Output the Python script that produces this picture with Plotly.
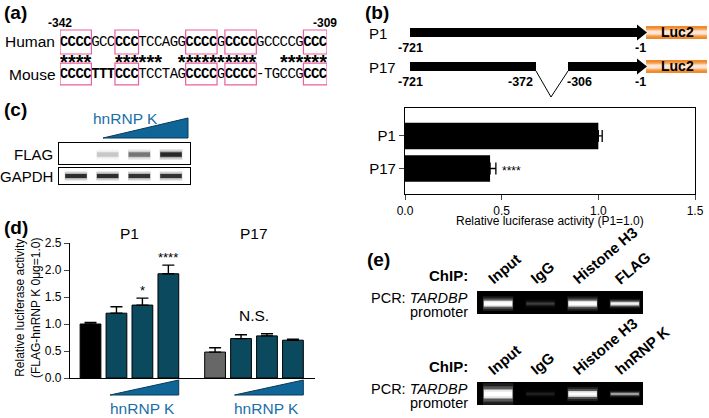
import plotly.graph_objects as go

W, H = 709, 418
SANS = "Liberation Sans, Arial, sans-serif"
MONO = "Liberation Mono, DejaVu Sans Mono, monospace"
TEAL = "#0b4a5e"
GREY = "#676767"
BLUE_TXT = "#1b6fa8"
BLUE_TRI = "#0f6596"
PINK = "#ec5f9e"

# (a) promoter alignment
human_seq = "CCCCGCCCCCTCCAGGCCCCGCCCCGCCCCGCCC"
mouse_seq = "CCCCTTTCCCTCCTAGCCCCGCCCC-TGCCGCCC"
human_bold = [(0, 4), (7, 10), (16, 20), (21, 25), (31, 34)]
mouse_bold = [(0, 10), (16, 20), (21, 25), (31, 34)]
c_rich_boxes = [(0, 4), (7, 10), (16, 20), (21, 25), (31, 34)]
seq_ends = ["-342", "-309"]

# (b) reporter constructs
constructs = ["P1", "P17"]
construct_activity = [1.0, 0.44]
construct_err = [0.02, 0.03]
construct_sig = ["", "****"]
p1_labels = ["-721", "-1"]
p17_labels = ["-721", "-372", "-306", "-1"]

# (c) western blot
blot_rows = ["FLAG", "GAPDH"]
flag_signal = [0.0, 0.2, 0.55, 1.0]
gapdh_signal = [0.95, 0.95, 0.92, 0.92]

# (d) luciferase with hnRNP K titration
d_groups = ["P1", "P17"]
d_activity = [[1.0, 1.2, 1.35, 1.93], [0.48, 0.73, 0.78, 0.70]]
d_err = [[0.03, 0.12, 0.13, 0.16], [0.08, 0.07, 0.04, 0.02]]
d_sig = [["", "", "*", "****"], ["", "", "", ""]]
d_group_note = ["", "N.S."]

# (e) ChIP gels
chip_lanes = [["Input", "IgG", "Histone H3", "FLAG"],
              ["Input", "IgG", "Histone H3", "hnRNP K"]]
chip_signal = [[1.0, 0.12, 0.95, 0.78], [1.0, 0.06, 0.92, 0.42]]


def px(x):
    return x / W


def py(y):
    return 1 - y / H


def dx(a, b):
    return [a / W, b / W]


def dy(top, bottom):
    return [1 - bottom / H, 1 - top / H]


def path(points):
    return "M " + " L ".join(f"{px(x)},{py(y)}" for x, y in points) + " Z"


fig = go.Figure()
annotations = []
shapes = []


def text(x, y, s, size=15, bold=False, color="black", xanchor="center", yanchor="middle", angle=0):
    annotations.append(dict(x=px(x), y=py(y), xref="paper", yref="paper",
                            text=f"<b>{s}</b>" if bold else s, showarrow=False,
                            font=dict(family=SANS, size=size, color=color),
                            xanchor=xanchor, yanchor=yanchor, textangle=angle))


def rect(x0, y0, x1, y1, fill, line_color=None, width=0, layer="above"):
    shapes.append(dict(type="rect", xref="paper", yref="paper", x0=px(x0), x1=px(x1), y0=py(y1), y1=py(y0),
                       fillcolor=fill, line=dict(color=line_color or fill, width=width), layer=layer))


def add_bands(signal, xa, ya, rgb, core, yc, half=0.34, bright=False):
    for i, v in enumerate(signal):
        if v <= 0:
            continue
        layers = [(2.4, 0.12, 1.06), (1.7, 0.25, 1.03), (1.0, 0.85, 1.0)]
        if bright:
            layers.append((0.5, 1.0, 0.97))
        for wm, am, hm in layers:
            fig.add_trace(go.Scatter(x=[i - half * hm, i + half * hm], y=[yc, yc], mode="lines",
                                     line=dict(color=f"rgba({rgb},{min(1, v * am):.3f})", width=core[i] * wm),
                                     xaxis=xa, yaxis=ya, hoverinfo="skip", showlegend=False))


# ---------- (a)
text(2, 13, "(a)", 19, True, xanchor="left")
text(3, 42, "Human", 15.5, xanchor="left")
text(7, 74, "Mouse", 15.5, xanchor="left")
text(60, 23, seq_ends[0], 12, True)
text(325, 23, seq_ends[1], 12, True)

idx = list(range(len(human_seq)))
for seq, runs, yrow in [(human_seq, human_bold, 2), (mouse_seq, mouse_bold, 0)]:
    bold_idx = {i for a, b in runs for i in range(a, b)}
    for is_bold in (True, False):
        sel = [i for i in idx if (i in bold_idx) == is_bold]
        fig.add_trace(go.Scatter(x=sel, y=[yrow] * len(sel), text=[seq[i] for i in sel], mode="text",
                                 textfont=dict(family=MONO, size=14, color="black",
                                               weight="bold" if is_bold else "normal"),
                                 xaxis="x7", yaxis="y7", hoverinfo="skip", showlegend=False))
# conserved positions get a star
stars = [i for i in idx if human_seq[i] == mouse_seq[i]]
fig.add_trace(go.Scatter(x=stars, y=[0.64] * len(stars), text=["*"] * len(stars), mode="text",
                         textfont=dict(family=SANS, size=20, color="black", weight="bold"),
                         xaxis="x7", yaxis="y7", hoverinfo="skip", showlegend=False))
for a, b in c_rich_boxes:
    for yc, hh in [(2, 0.75), (0, 0.68)]:
        shapes.append(dict(type="rect", xref="x7", yref="y7", x0=a - 0.5, x1=b - 0.5, y0=yc - hh, y1=yc + hh,
                           line=dict(color=PINK, width=1.2)))

# ---------- (b) schematic
text(363, 12, "(b)", 19, True, xanchor="left")
text(367, 33, constructs[0], 15, xanchor="left")
text(367, 67, constructs[1], 15, xanchor="left")
for yc in (32.5, 66.5):
    # Luc2 box with orange gradient
    for d, col in [(0, "#f08a2c"), (2.5, "#f6ad6c"), (4, "#fbd2ad"), (5, "#fde7d4")]:
        rect(646, yc - 6.5 + d, 707, yc + 6.5 - d, col)
    text(677, yc, "Luc2", 14, True)
    shapes.append(dict(type="path", xref="paper", yref="paper", path=path([(637, yc - 8), (647, yc), (637, yc + 8)]),
                       fillcolor="black", line=dict(width=0)))
rect(410, 28, 638, 37, "black")
rect(410, 62, 536, 71, "black")
rect(568, 62, 638, 71, "black")
shapes.append(dict(type="path", xref="paper", yref="paper",
                   path=f"M {px(536)},{py(71)} L {px(551)},{py(97)} L {px(568)},{py(71)}",
                   line=dict(color="black", width=1)))
for lab, x in zip(p1_labels, [410, 640]):
    text(x, 48, lab, 12.5, True)
for lab, x in zip(p17_labels, [410, 520, 579, 640]):
    text(x, 82, lab, 12.5, True)

# ---------- (b) bar chart
ypos_b = [len(constructs) - 1 - i for i in range(len(constructs))]
fig.add_trace(go.Bar(x=construct_activity, y=ypos_b, orientation="h", width=0.82,
                     marker=dict(color="black", line=dict(width=0)),
                     error_x=dict(type="data", array=construct_err, arrayminus=[0] * len(constructs),
                                  symmetric=False, color="black", thickness=1.3, width=6),
                     xaxis="x", yaxis="y", hoverinfo="skip", showlegend=False))
for v, e, yv, s in zip(construct_activity, construct_err, ypos_b, construct_sig):
    if s:
        annotations.append(dict(x=v + e, y=yv, xref="x", yref="y", text=s, showarrow=False, xanchor="left",
                                yanchor="middle", xshift=4, yshift=-3,
                                font=dict(family=SANS, size=12, color="black")))
text(550, 221.5, "Relative luciferase activity (P1=1.0)", 12)

# ---------- (c)
text(2, 110, "(c)", 19, True, xanchor="left")
text(125, 118, "hnRNP K", 15.5, color=BLUE_TXT)
shapes.append(dict(type="path", xref="paper", yref="paper", path=path([(103, 138), (188, 138), (188, 118)]),
                   fillcolor=BLUE_TRI, line=dict(color="#0a3a5a", width=1)))
text(55, 154, blot_rows[0], 15, xanchor="right")
text(55, 176, blot_rows[1], 15, xanchor="right")
add_bands(flag_signal, "x3", "y3", "15,15,15", [4.5] * 4, 0.45)
add_bands(gapdh_signal, "x4", "y4", "15,15,15", [4] * 4, 0.5)

# ---------- (d)
text(2, 227, "(d)", 19, True, xanchor="left")
d_pos, d_val, d_e, d_col = [], [], [], []
for g in range(len(d_groups)):
    for i in range(len(d_activity[g])):
        d_pos.append(g * 4.8 + i)
        d_val.append(d_activity[g][i])
        d_e.append(d_err[g][i])
        d_col.append(("black" if g == 0 else GREY) if i == 0 else TEAL)
fig.add_trace(go.Bar(x=d_pos, y=d_val, width=0.8,
                     marker=dict(color=d_col, line=dict(color="black", width=1)),
                     error_y=dict(type="data", array=d_e, arrayminus=[0] * len(d_e), symmetric=False,
                                  color="black", thickness=1.4, width=6),
                     xaxis="x2", yaxis="y2", hoverinfo="skip", showlegend=False))
for g, name in enumerate(d_groups):
    gp = [g * 4.8 + i for i in range(4)]
    annotations.append(dict(x=sum(gp) / 4, y=py(233), xref="x2", yref="paper", text=name, showarrow=False,
                            xanchor="center", yanchor="middle",
                            font=dict(family=SANS, size=15.5, color="black")))
    for i, s in enumerate(d_sig[g]):
        if s:
            annotations.append(dict(x=gp[i], y=d_activity[g][i] + d_err[g][i], xref="x2", yref="y2", text=s,
                                    showarrow=False, xanchor="center", yanchor="bottom", yshift=-2,
                                    font=dict(family=SANS, size=13, color="black")))
    if d_group_note[g]:
        annotations.append(dict(x=sum(gp) / 4, y=py(315), xref="x2", yref="paper", text=d_group_note[g],
                                showarrow=False, xanchor="center", yanchor="middle",
                                font=dict(family=SANS, size=15.5, color="black")))
    x0, x1 = gp[1] - 0.25, gp[3] + 0.4
    shapes.append(dict(type="path", xref="x2", yref="paper",
                       path=f"M {x0},{py(395)} L {x1},{py(395)} L {x1},{py(380)} Z",
                       fillcolor=BLUE_TRI, line=dict(color="#0a3a5a", width=1)))
    annotations.append(dict(x=sum(gp[1:]) / 3, y=py(408), xref="x2", yref="paper", text="hnRNP K",
                            showarrow=False, xanchor="center", yanchor="middle",
                            font=dict(family=SANS, size=15.5, color=BLUE_TXT)))
text(28, 308, "Relative luciferase activity<br>(FLAG-hnRNP K 0μg=1.0)", 12, angle=-90)

# ---------- (e)
text(365, 259, "(e)", 19, True, xanchor="left")
gel_tops = [291, 382]
gel_cores = [[6, 4, 6, 4], [9, 4, 6, 3]]
gel_yc = [0.45, 0.48]
for k in range(2):
    top = gel_tops[k]
    xa, ya = f"x{5 + k}", f"y{5 + k}"
    shapes.append(dict(type="rect", xref=f"{xa} domain", yref=f"{ya} domain", x0=0, x1=1, y0=0, y1=1,
                       fillcolor="black", line=dict(width=0), layer="below"))
    add_bands(chip_signal[k], xa, ya, "255,255,255", gel_cores[k], gel_yc[k], bright=True)
    text(470, top - 16, "ChIP:", 15, True, xanchor="right")
    text(470, top + 7, "PCR: <i>TARDBP</i>", 14.5, xanchor="right")
    text(470, top + 21, "promoter", 14.5, xanchor="right")
    for i, lab in enumerate(chip_lanes[k]):
        text(498 + 42.3 * i - 16, top - 1, lab, 15, True, xanchor="left", yanchor="bottom", angle=-40)

axis_off = dict(showgrid=False, zeroline=False, showticklabels=False, ticks="", fixedrange=True,
                automargin=False)
blot_ax = dict(axis_off, showline=True, mirror=True, linecolor="black", linewidth=1.3)

fig.update_layout(
    width=W, height=H, margin=dict(l=0, r=0, t=0, b=0, pad=0, autoexpand=False),
    paper_bgcolor="white", plot_bgcolor="white", showlegend=False,
    font=dict(family=SANS, color="black"),
    xaxis=dict(domain=dx(405, 695), range=[0, 1.5], tickvals=[0, 0.5, 1, 1.5], tickformat=".1f",
               ticks="outside", ticklen=5, tickwidth=1.2, showline=True, mirror=True, linecolor="black",
               linewidth=1.2, showgrid=False, zeroline=False, tickfont=dict(size=12), anchor="y",
               automargin=False),
    yaxis=dict(domain=dy(108, 194), range=[-0.785, 1.86], tickvals=ypos_b, ticktext=constructs,
               ticks="outside", ticklen=5, tickwidth=1.2, showline=True, mirror=True, linecolor="black",
               linewidth=1.2, showgrid=False, zeroline=False, tickfont=dict(size=15), anchor="x",
               automargin=False),
    xaxis2=dict(domain=dx(70, 315), range=[-0.79, 8.65], showline=True, linecolor="black", linewidth=1.2,
                showgrid=False, zeroline=False, showticklabels=False, ticks="", anchor="y2", automargin=False),
    yaxis2=dict(domain=dy(243, 378), range=[0, 2.5], tickvals=[0, 0.5, 1, 1.5, 2, 2.5], tickformat=".1f",
                ticks="outside", ticklen=5, tickwidth=1.2, showline=True, linecolor="black", linewidth=1.2,
                showgrid=False, zeroline=False, tickfont=dict(size=12), anchor="x2", automargin=False),
    xaxis3=dict(blot_ax, domain=dx(59, 190), range=[-0.536, 3.6], anchor="y3"),
    yaxis3=dict(blot_ax, domain=dy(143, 164), range=[0, 1], anchor="x3"),
    xaxis4=dict(blot_ax, domain=dx(59, 190), range=[-0.536, 3.6], anchor="y4"),
    yaxis4=dict(blot_ax, domain=dy(168, 184), range=[0, 1], anchor="x4"),
    xaxis5=dict(axis_off, domain=dx(477, 643), range=[-0.5, 3.43], anchor="y5"),
    yaxis5=dict(axis_off, domain=dy(291, 314), range=[0, 1], anchor="x5"),
    xaxis6=dict(axis_off, domain=dx(477, 643), range=[-0.5, 3.43], anchor="y6"),
    yaxis6=dict(axis_off, domain=dy(382, 405), range=[0, 1], anchor="x6"),
    xaxis7=dict(axis_off, domain=dx(60, 327), range=[-0.5, 33.5], anchor="y7"),
    yaxis7=dict(axis_off, domain=dy(26, 90), range=[-1, 3], anchor="x7"),
    annotations=annotations, shapes=shapes,
)

fig.write_html("out.html", config={"displayModeBar": False},
               post_script="document.body.style.margin = '0';")
